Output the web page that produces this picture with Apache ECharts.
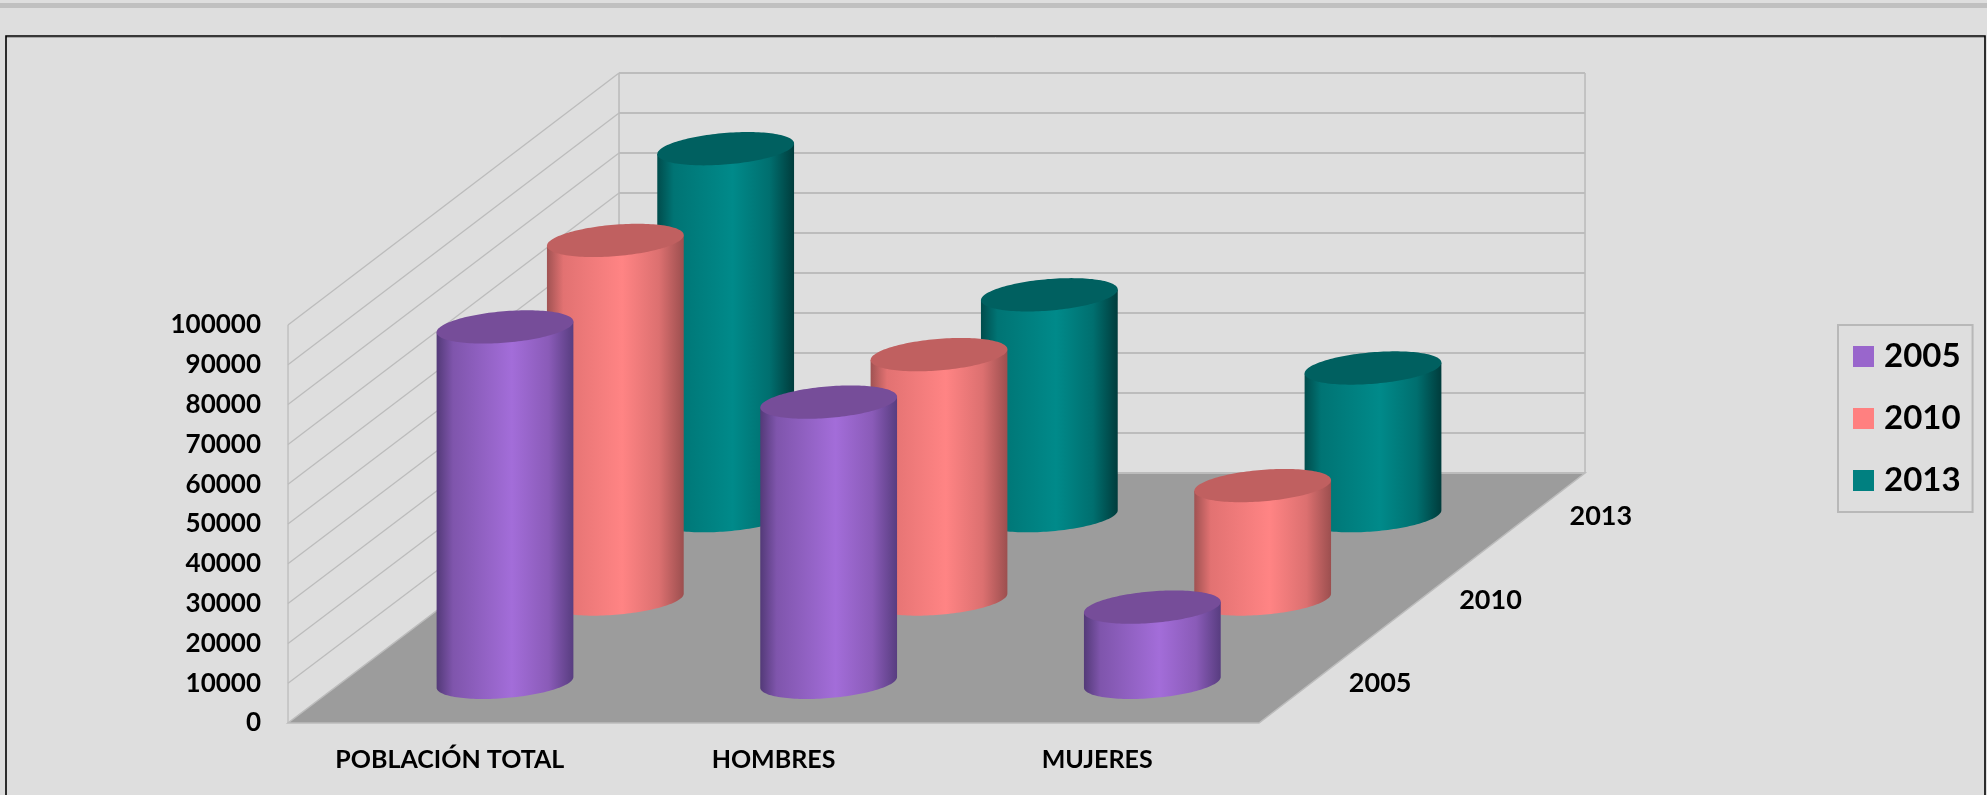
<!DOCTYPE html>
<html><head><meta charset="utf-8">
<style>html,body{margin:0;padding:0;background:#dedede}#c{width:1987px;height:795px}</style>
<script src="https://cdn.jsdelivr.net/npm/echarts@6/dist/echarts.min.js"></script>
</head><body><div id="c"></div>
<script>
const categories = ['POBLACIÓN TOTAL', 'HOMBRES', 'MUJERES'];
const years = ['2005', '2010', '2013'];
const values2005 = [89300, 70400, 18900];
const values2010 = [90100, 61400, 28500];
const values2013 = [92200, 55500, 37100];
const yTicks = [0,10000,20000,30000,40000,50000,60000,70000,80000,90000,100000];

const DEPTH_X = 331, DEPTH_Y = 250, RADIUS = 0.2, BACK_SCALE = 1.005;
const palettes = [
  {legend:'#9966cc', top:'#764d99', stops:[[0,'#533a78'],[.12,'#7f55ac'],[.55,'#a36dd9'],[.82,'#8a5bb8'],[1,'#583d80']]},
  {legend:'#ff8080', top:'#c06060', stops:[[0,'#a05252'],[.12,'#e27272'],[.55,'#ff8484'],[.82,'#dc7070'],[1,'#9c4f4f']]},
  {legend:'#008080', top:'#006060', stops:[[0,'#004c4c'],[.12,'#007474'],[.55,'#008a8a'],[.82,'#006f6f'],[1,'#003c3c']]}
];
function grad(stops){
  return {type:'linear',x:0,y:0,x2:1,y2:0,colorStops:stops.map(s=>({offset:s[0],color:s[1]}))};
}
function cylinderSeries(name, idx, values){
  return {
    name, type:'custom', coordinateSystem:'cartesian2d', z:5-idx, silent:true,
    itemStyle:{color:palettes[idx].legend},
    encode:{x:0,y:1},
    data:values.map((v,i)=>[categories[i],v]),
    renderItem(params, api){
      const cs = params.coordSys;
      const colStep = cs.width/categories.length;
      const rowX = DEPTH_X/years.length, rowY = DEPTH_Y/years.length;
      const base0 = api.coord([api.value(0),0]);
      const top0 = api.coord([api.value(0),api.value(1)]);
      const dx = rowX*(idx+0.5), dy = rowY*(idx+0.5)-1;
      const cx = base0[0]+dx, by = base0[1]-dy, ty = top0[1]-dy;
      const ux = RADIUS*colStep, vx = RADIUS*rowX, vy = RADIUS*rowY;
      const pt = (t,y)=>[cx+ux*Math.cos(t)+vx*Math.sin(t), y-vy*Math.sin(t)];
      const tR = Math.atan2(vx,ux);
      const n = 72;
      const front = [];
      for(let k=0;k<=n;k++){ front.push(pt(tR-Math.PI*k/n,by)); }
      const topRing = [];
      for(let k=0;k<n*2;k++){ topRing.push(pt(Math.PI*k/n,ty)); }
      const side = front.concat([pt(tR-Math.PI,ty),pt(tR,ty)]);
      return {type:'group',children:[
        {type:'polygon',shape:{points:side},style:{fill:grad(palettes[idx].stops)}},
        {type:'polygon',shape:{points:topRing},style:{fill:palettes[idx].top}}
      ]};
    }
  };
}
const sceneSeries = {
  type:'custom', coordinateSystem:'cartesian2d', z:1, silent:true, encode:{x:0,y:1},
  data:[[categories[0],0]],
  renderItem(params, api){
    const cs = params.coordSys;
    const fl=[cs.x,cs.y+cs.height], fr=[cs.x+cs.width,cs.y+cs.height];
    const bl=[fl[0]+DEPTH_X,fl[1]-DEPTH_Y], br=[fr[0]+DEPTH_X-5,fr[1]-DEPTH_Y];
    const kids=[];
    const line='#bcbcbc';
    const backY=y=>bl[1]-(fl[1]-y)*BACK_SCALE;
    kids.push({type:'polygon',shape:{points:[fl,fr,br,bl]},style:{fill:'#9c9c9c',stroke:'#bcbcbc',lineWidth:1.5}});
    yTicks.forEach(t=>{
      const y=api.coord([categories[0],t])[1];
      if(t>0){
        kids.push({type:'line',shape:{x1:fl[0],y1:y,x2:bl[0],y2:backY(y)},style:{stroke:line,lineWidth:1.3}});
      }
      kids.push({type:'line',shape:{x1:bl[0],y1:backY(y),x2:br[0],y2:backY(y)},style:{stroke:line,lineWidth:2}});
    });
    const topY=api.coord([categories[0],yTicks[yTicks.length-1]])[1];
    kids.push({type:'line',shape:{x1:fl[0],y1:fl[1],x2:fl[0],y2:topY},style:{stroke:line,lineWidth:1.3}});
    kids.push({type:'line',shape:{x1:bl[0],y1:bl[1],x2:bl[0],y2:backY(topY)},style:{stroke:line,lineWidth:1.6}});
    kids.push({type:'line',shape:{x1:br[0],y1:br[1],x2:br[0],y2:backY(topY)},style:{stroke:line,lineWidth:1.6}});
    years.forEach((yr,i)=>{
      kids.push({type:'text',style:{
        text:yr,x:fr[0]+DEPTH_X/years.length*(i+0.5)+66,y:fr[1]-DEPTH_Y/years.length*(i+0.5)+2,
        align:'center',verticalAlign:'middle',
        font:'bold 27px Lato, "Open Sans", sans-serif',fill:'#000'}});
    });
    return {type:'group',children:kids};
  }
};
const chart = echarts.init(document.getElementById('c'),null,{renderer:'canvas',width:1987,height:795});
chart.setOption({
  animation:false,
  backgroundColor:'#dedede',
  textStyle:{fontFamily:'Lato, "Open Sans", sans-serif'},
  graphic:[
    {type:'rect',shape:{x:0,y:3,width:1987,height:5},style:{fill:'#c0c0c0'},silent:true},
    {type:'line',shape:{x1:6,y1:37.5,x2:1985,y2:37.5},style:{stroke:'#a8a8a8',lineWidth:1},silent:true},
    {type:'polyline',shape:{points:[[6,795],[6,36],[1985,36],[1985,795]]},style:{stroke:'#000',lineWidth:1.6,fill:null},silent:true}
  ],
  grid:{left:288,top:325,width:971,height:398,containLabel:false},
  xAxis:{type:'category',data:categories,axisLine:{show:false},axisTick:{show:false},splitLine:{show:false},
    axisLabel:{margin:24,color:'#000',fontWeight:'bold',fontSize:25,fontFamily:'Lato, "Open Sans", sans-serif',interval:0}},
  yAxis:{type:'value',min:0,max:100000,interval:10000,axisLine:{show:false},axisTick:{show:false},splitLine:{show:false},
    axisLabel:{margin:27,color:'#000',fontWeight:'bold',fontSize:26,padding:[3,0,0,0],formatter:v=>String(v),fontFamily:'Lato, "Open Sans", sans-serif'}},
  legend:{
    orient:'vertical',left:1838,top:325,data:years,icon:'rect',itemWidth:21,itemHeight:21,itemGap:29,
    padding:[15,12,15,15],borderColor:'#b8b8b8',borderWidth:2,selectedMode:false,
    textStyle:{color:'#000',fontWeight:'bold',fontSize:33,padding:[0,0,0,5],fontFamily:'Lato, "Open Sans", sans-serif'}
  },
  series:[sceneSeries,
    cylinderSeries(years[0],0,values2005),
    cylinderSeries(years[1],1,values2010),
    cylinderSeries(years[2],2,values2013)]
});
</script></body></html>
